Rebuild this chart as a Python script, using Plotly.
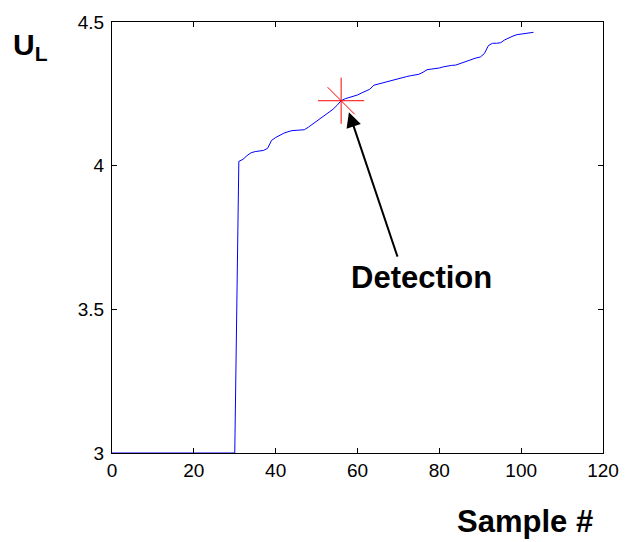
import plotly.graph_objects as go

# ---- data ----
sample_x = [0, 30] + list(range(31, 104))
u_l = [3.0, 3.0,
       4.015, 4.022, 4.035, 4.045, 4.049, 4.051, 4.053, 4.060, 4.088, 4.098,
       4.106, 4.113, 4.118, 4.122, 4.123, 4.124, 4.125, 4.134, 4.144, 4.155,
       4.166, 4.176, 4.186, 4.196, 4.210, 4.226, 4.233, 4.237, 4.241, 4.246,
       4.253, 4.259, 4.266, 4.280, 4.284, 4.287, 4.290, 4.294, 4.299, 4.303,
       4.307, 4.310, 4.313, 4.316, 4.318, 4.325, 4.334, 4.336, 4.337, 4.340,
       4.344, 4.347, 4.349, 4.350, 4.355, 4.361, 4.366, 4.371, 4.375, 4.378,
       4.390, 4.418, 4.426, 4.426, 4.428, 4.438, 4.446, 4.451, 4.456, 4.458,
       4.462, 4.463, 4.464]

detect_x = [56]
detect_y = [4.226]

arrow_tip = (57.9, 4.186)
arrow_tail = (69.9, 3.678)
label_pos = (75.6, 3.612)

x_ticks = [0, 20, 40, 60, 80, 100, 120]
x_ticklabels = ["0", "20", "40", "60", "80", "100", "120"]
y_ticks = [3, 3.5, 4, 4.5]
y_ticklabels = ["3", "3.5", "4", "4.5"]

FONT = "Liberation Sans, Arial, Helvetica, sans-serif"

fig = go.Figure()
fig.add_trace(go.Scatter(x=sample_x, y=u_l, mode="lines",
                         line=dict(color="#0000ff", width=1), showlegend=False,
                         hoverinfo="skip"))
fig.add_trace(go.Scatter(x=detect_x, y=detect_y, mode="markers", showlegend=False,
                         marker=dict(symbol="cross-thin", size=33, color="red",
                                     line=dict(color="red", width=1))))
fig.add_trace(go.Scatter(x=detect_x, y=detect_y, mode="markers", showlegend=False,
                         marker=dict(symbol="line-nw", size=27, color="red",
                                     line=dict(color="red", width=1))))

axis_common = dict(showline=True, linecolor="black", linewidth=1, mirror="allticks",
                   ticks="inside", ticklen=5, tickcolor="black", tickwidth=1,
                   showgrid=False, zeroline=False,
                   tickfont=dict(family=FONT, size=19, color="black"))

fig.update_xaxes(range=[0, 120], tickvals=x_ticks, ticktext=x_ticklabels, **axis_common)
fig.update_yaxes(range=[3, 4.5], tickvals=y_ticks, ticktext=y_ticklabels,
                 ticklabelstandoff=3, **axis_common)

fig.add_annotation(x=arrow_tip[0], y=arrow_tip[1], ax=arrow_tail[0], ay=arrow_tail[1],
                   xref="x", yref="y", axref="x", ayref="y", text="",
                   showarrow=True, arrowhead=2, arrowsize=1.5, arrowwidth=2,
                   arrowcolor="black")
fig.add_annotation(x=label_pos[0], y=label_pos[1], xref="x", yref="y",
                   text="<b>Detection</b>", showarrow=False,
                   font=dict(family=FONT, size=31, color="black"))
fig.add_annotation(x=0.841, y=-0.16, xref="paper", yref="paper",
                   text="<b>Sample #</b>", showarrow=False, xanchor="center", yanchor="middle",
                   font=dict(family=FONT, size=31, color="black"))
fig.add_annotation(x=-0.205, y=0.99, xref="paper", yref="paper",
                   text="<b>U<sub>L</sub></b>", showarrow=False, xanchor="left", yanchor="top",
                   font=dict(family=FONT, size=30, color="black"))

fig.update_layout(width=631, height=542, margin=dict(l=112, r=20, t=22, b=89),
                  paper_bgcolor="white", plot_bgcolor="white",
                  font=dict(family=FONT, color="black"))

fig.write_html("out.html")
